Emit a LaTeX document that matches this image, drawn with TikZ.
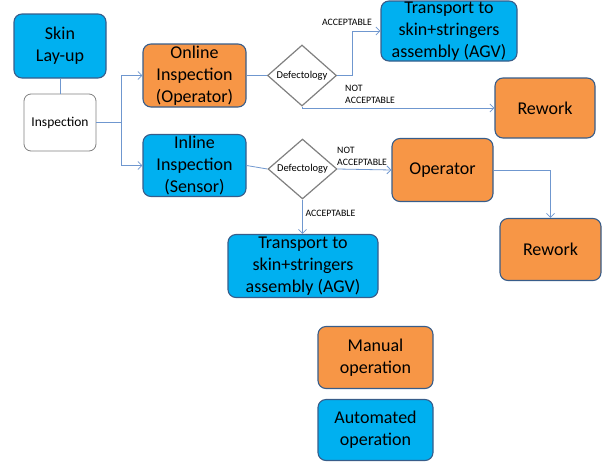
\documentclass[tikz,border=0pt]{standalone}
\usepackage{fontspec}
\setmainfont{Carlito}
\usetikzlibrary{shapes.geometric,arrows.meta}
\definecolor{cyanfill}{HTML}{00B0F0}
\definecolor{orangefill}{HTML}{F79646}
\definecolor{boxborder}{HTML}{385D8A}
\definecolor{linkcol}{HTML}{6F97CF}
\definecolor{diagray}{HTML}{808080}
\begin{document}
\begin{tikzpicture}[x=1pt,y=-1pt,
  box/.style={draw=boxborder,line width=1.1pt,rounded corners=8pt,align=center,
    inner sep=0pt,font=\fontsize{18}{22}\selectfont},
  auto box/.style={box,fill=cyanfill},
  man box/.style={box,fill=orangefill},
  decision/.style={diamond,draw=diagray,line width=1.2pt,inner sep=0pt,fill=white,
    font=\fontsize{10.5}{12}\selectfont},
  link/.style={draw=linkcol,line width=0.8pt},
  arr/.style={link,-{Straight Barb[length=4pt,width=8pt]}},
  lbl/.style={font=\fontsize{9.8}{12}\selectfont,inner sep=0pt,align=left}]
\useasboundingbox (0,0) rectangle (602,461);
% nodes
\node[auto box,minimum width=92pt,minimum height=64pt] (skin) at (60,46) {Skin\\Lay-up};
\node[draw=diagray,line width=0.8pt,rounded corners=7pt,fill=white,minimum width=72pt,minimum height=57pt,
  font=\fontsize{13.5}{16}\selectfont,inner sep=0pt] (insp) at (60,122.5) {Inspection};
\node[man box,minimum width=103pt,minimum height=63pt] (online) at (194.5,75.5) {Online\\Inspection\\(Operator)};
\node[auto box,minimum width=103pt,minimum height=62pt] (inline) at (194.5,165.5) {Inline\\Inspection\\(Sensor)};
\node[decision,minimum width=69pt,minimum height=61pt] (d1) at (302,75.5) {Defectology};
\node[decision,minimum width=69pt,minimum height=58pt] (d2) at (302.5,169) {Defectology};
\node[auto box,minimum width=136pt,minimum height=60pt] (t1) at (449,31) {Transport to\\skin+stringers\\assembly (AGV)};
\node[man box,minimum width=100pt,minimum height=60pt] (rw1) at (545,108) {Rework};
\node[man box,minimum width=101pt,minimum height=63pt] (op) at (442.5,170) {Operator};
\node[man box,minimum width=101pt,minimum height=62pt] (rw2) at (550.5,249.5) {Rework};
\node[auto box,minimum width=150pt,minimum height=63pt] (t2) at (303,266) {Transport to\\skin+stringers\\assembly (AGV)};
\node[man box,minimum width=115pt,minimum height=62pt] (manual) at (375.5,357.5) {Manual\\operation};
\node[auto box,minimum width=115pt,minimum height=61pt] (auto) at (375.5,430) {Automated\\operation};
% connectors
\coordinate (j) at (121,122.5);
\draw[link] (skin.south) -- (insp.north);
\draw[link] (insp.east) -- (j);
\draw[arr] (j) |- (online.west);
\draw[arr] (j) |- (inline.west);
\draw[link] (online.east) -- (d1.west);
\draw[link] (inline.east) -- (d2.west);
\coordinate (k) at (352,75.5);
\draw[arr] (d1.east) -- (k) |- (t1.west);
\draw[arr] (d1.south) |- (rw1.west);
\draw[arr] (d2.east) -- (op.west);
\draw[arr] (op.east) -| (rw2.north);
\draw[arr] (d2.south) -- (d2.south |- t2.north);
% labels
\node[lbl] (la1) at (347,22) {ACCEPTABLE};
\node[lbl,anchor=west] (la2) at (345,94) {NOT\\ACCEPTABLE};
\node[lbl,anchor=west] (la3) at (337,156) {NOT\\ACCEPTABLE};
\node[lbl] (la4) at (330.5,213) {ACCEPTABLE};
\end{tikzpicture}
\end{document}
